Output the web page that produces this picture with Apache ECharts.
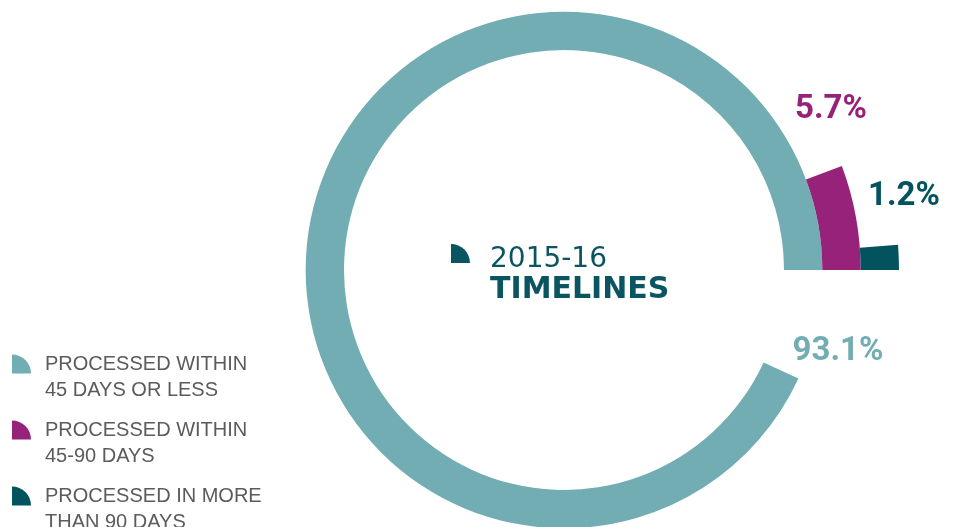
<!DOCTYPE html>
<html>
<head>
<meta charset="utf-8">
<script src="https://cdn.jsdelivr.net/npm/echarts@6/dist/echarts.min.js"></script>
<style>
  html, body { margin: 0; padding: 0; background: #fff; }
  #chart_1 { width: 955px; height: 527px; }
</style>
</head>
<body>
<div id="chart_1"></div>
<script>
// categories (legend names) and shares in percent
var categories = ['PROCESSED WITHIN\n45 DAYS OR LESS', 'PROCESSED WITHIN\n45-90 DAYS', 'PROCESSED IN MORE\nTHAN 90 DAYS'];
var shares = [93.1, 5.7, 1.2];
var colors = ['#72adb3', '#97227a', '#03535f'];
var titleLines = ['2015-16', 'TIMELINES'];

var quarterIcon = 'path://M0,0 A20,20 0 0 1 20,20 L0,20 Z';

var myChart = echarts.init(document.getElementById('chart_1'));

var series = categories.map(function (name, i) {
    return {
        name: name,
        type: 'bar',
        coordinateSystem: 'polar',
        barGap: '-100%',
        barCategoryGap: '0%',
        itemStyle: { color: colors[i] },
        data: categories.map(function (c, j) { return j === i ? shares[i] : '-'; }),
        silent: true
    };
});

// value labels placed beside each bar end
var labelPos = [[838, 352], [831, 110], [904, 197]];
var labels = shares.map(function (v, i) {
    return {
        type: 'text',
        x: labelPos[i][0],
        y: labelPos[i][1],
        style: {
            text: v.toFixed(1) + '%',
            fill: colors[i],
            font: 'bold 33px Roboto',
            align: 'center',
            verticalAlign: 'middle'
        }
    };
});

option = {
    backgroundColor: '#fff',
    animation: false,
    polar: {
        center: [564, 270],
        radius: [220, 335]
    },
    angleAxis: {
        type: 'value',
        min: 0,
        max: 100,
        startAngle: 0,
        clockwise: false,
        show: false
    },
    radiusAxis: {
        type: 'category',
        data: categories,
        show: false
    },
    legend: {
        orient: 'vertical',
        left: 12,
        top: 325,
        height: 400,
        padding: 0,
        itemGap: -12,
        itemWidth: 21,
        itemHeight: 19,
        icon: quarterIcon,
        selectedMode: false,
        // leading empty line keeps the icon level with the first text line
        formatter: function (name) { return '\n' + name; },
        textStyle: {
            color: '#5b5b5b',
            fontFamily: 'Liberation Sans',
            fontSize: 20,
            lineHeight: 26,
            padding: [0, 0, 0, 8]
        },
        data: categories
    },
    title: {
        text: '{a|' + titleLines[0] + '}\n{b|' + titleLines[1] + '}',
        left: 490,
        top: 245,
        padding: 0,
        textStyle: {
            rich: {
                a: { fontFamily: 'DejaVu Sans', fontWeight: 'normal', fontSize: 28, color: '#0b5563', lineHeight: 30 },
                b: { fontFamily: 'DejaVu Sans', fontWeight: 'bold', fontSize: 30, color: '#0b5563', lineHeight: 31 }
            }
        }
    },
    graphic: labels.concat([{
        type: 'sector',
        shape: { cx: 451, cy: 263, r: 19, startAngle: -Math.PI / 2, endAngle: 0 },
        style: { fill: '#0b5563' }
    }]),
    series: series
};
myChart.setOption(option);
window.addEventListener('resize', function () {
    myChart.resize();
});
</script>
</body>
</html>
